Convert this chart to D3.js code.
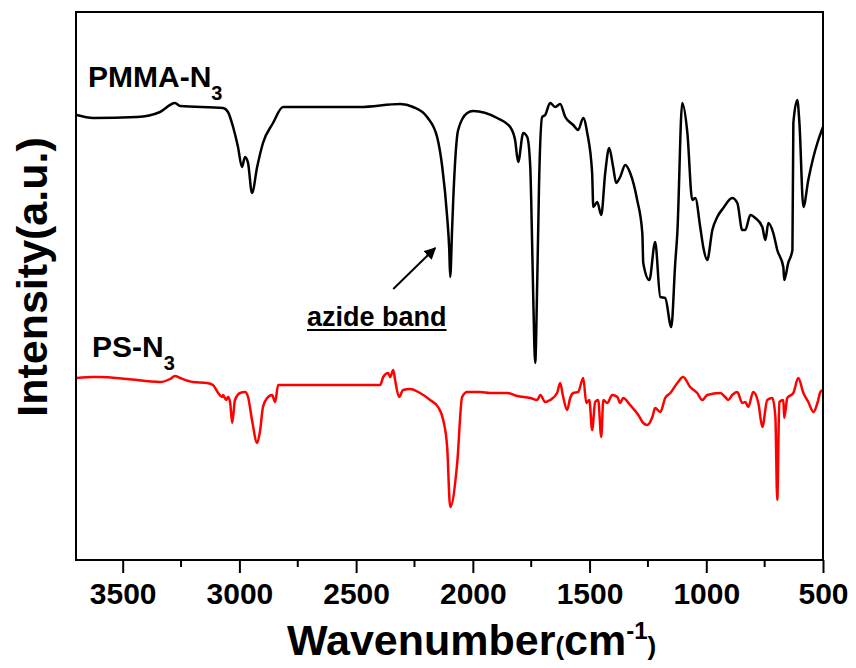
<!DOCTYPE html>
<html>
<head>
<meta charset="utf-8">
<script src="https://cdn.jsdelivr.net/npm/d3@7"></script>
<style>
  body { margin: 0; background: #fff; }
  text { font-family: "Liberation Sans", Arial, sans-serif; font-weight: bold; }
</style>
</head>
<body>
<svg id="chart"></svg>
<script>
// FTIR spectra (wavenumber in cm-1, intensity in a.u.)
var pmmaWn = [3696, 3627, 3439, 3340, 3276, 3254, 3070, 3049, 3027, 3006, 2989, 2976, 2963, 2946, 2924, 2899, 2856, 2813,
  2624, 2483, 2311, 2256, 2196, 2153, 2131, 2110, 2101, 2097, 2089, 2084, 2063, 2024, 1999, 1896, 1840, 1819, 1806,
  1784, 1767, 1754, 1750, 1741, 1733, 1724, 1716, 1703, 1690, 1669, 1647, 1626, 1604, 1570, 1549, 1527, 1510, 1489,
  1484, 1467, 1450, 1433, 1416, 1399, 1386, 1369, 1347, 1326, 1296, 1274, 1270, 1244, 1219, 1197, 1176, 1150, 1133,
  1124, 1103, 1081, 1060, 1047, 1026, 1013, 996, 974, 953, 927, 889, 867, 846, 833, 811, 790, 760, 747, 734, 713,
  696, 670, 666, 649, 631, 627, 610, 601, 584, 563, 541, 524, 500];
var pmmaInt = [445, 442, 443, 448, 457, 454, 452, 448, 433, 413, 393, 403, 397, 367, 393, 417, 437, 453,
  453, 453, 456, 453, 443, 423, 393, 343, 310, 283, 330, 360, 430, 447, 449, 442, 433, 420, 398,
  427, 423, 393, 360, 260, 197, 280, 380, 443, 445, 457, 453, 456, 443, 435, 430, 442, 427, 387,
  353, 358, 345, 387, 412, 393, 377, 383, 395, 387, 360, 327, 297, 280, 318, 263, 262, 233, 297,
  327, 457, 427, 360, 362, 333, 313, 300, 330, 343, 352, 362, 357, 330, 330, 345, 342, 333, 320, 337, 327,
  310, 293, 280, 297, 310, 437, 460, 437, 353, 380, 403, 417, 433];

var psWn = [3696, 3627, 3597, 3481, 3340, 3297, 3276, 3254, 3199, 3139, 3113, 3091, 3074, 3070, 3057, 3049, 3040, 3031,
  3019, 2997, 2976, 2963, 2946, 2924, 2911, 2899, 2877, 2860, 2847, 2834, 2770, 2483, 2397, 2384, 2363, 2354, 2341,
  2333, 2316, 2299, 2269, 2226, 2183, 2149, 2127, 2110, 2097, 2067, 2046, 2024, 1969, 1926, 1853, 1810, 1754, 1724,
  1711, 1690, 1669, 1639, 1626, 1613, 1596, 1583, 1570, 1549, 1527, 1514, 1501, 1489, 1476, 1463, 1450, 1441, 1424,
  1403, 1381, 1369, 1356, 1326, 1291, 1270, 1253, 1231, 1219, 1197, 1176, 1154, 1124, 1099, 1069, 1039, 1017, 996,
  940, 919, 906, 889, 867, 846, 833, 820, 799, 777, 760, 739, 717, 704, 696, 687, 670, 666, 653, 627, 606, 584, 563,
  541, 524, 511, 500];
var psInt = [182, 183, 183, 181, 178, 181, 184, 182, 178, 177, 175, 167, 163, 165, 160, 163, 158, 137,
  160, 167, 168, 163, 140, 117, 130, 153, 163, 165, 158, 175, 175, 175, 175, 183, 187, 183, 190,
  180, 163, 170, 171, 167, 160, 153, 140, 113, 53, 97, 163, 168, 168, 167, 167, 164, 162, 160,
  165, 158, 160, 167, 177, 163, 150, 162, 167, 168, 182, 157, 160, 130, 158, 160, 123, 160, 157,
  165, 163, 157, 162, 155, 145, 137, 135, 143, 152, 148, 162, 167, 177, 183, 173, 167, 160, 165,
  167, 163, 160, 165, 168, 157, 158, 153, 168, 157, 133, 160, 162, 143, 60, 158, 160, 142, 162, 167, 182, 167, 158,
  148, 157, 168, 170];

var xTicks = [3500, 3000, 2500, 2000, 1500, 1000, 500];
var xMinorTicks = [3250, 2750, 2250, 1750, 1250, 750];

var width = 856, height = 668;
var margin = {top: 12, right: 33, bottom: 108, left: 76};

var svg = d3.select("#chart")
            .attr("width", width)
            .attr("height", height);

var x = d3.scaleLinear()
          .domain([3700, 500])
          .range([margin.left, width - margin.right]);

var y = d3.scaleLinear()
          .domain([0, 548])
          .range([height - margin.bottom, margin.top]);

svg.append("clipPath")
   .attr("id", "plot-clip")
   .append("rect")
   .attr("x", margin.left)
   .attr("y", margin.top)
   .attr("width", width - margin.left - margin.right)
   .attr("height", height - margin.top - margin.bottom);

var line = d3.line()
             .curve(d3.curveMonotoneX)
             .x(d => x(d[0]))
             .y(d => y(d[1]));

var plot = svg.append("g").attr("clip-path", "url(#plot-clip)");

plot.append("path")
    .datum(d3.zip(psWn, psInt))
    .attr("fill", "none")
    .attr("stroke", "#ff0000")
    .attr("stroke-width", 2.5)
    .attr("stroke-linejoin", "round")
    .attr("d", line);

plot.append("path")
    .datum(d3.zip(pmmaWn, pmmaInt))
    .attr("fill", "none")
    .attr("stroke", "#000")
    .attr("stroke-width", 2.5)
    .attr("stroke-linejoin", "round")
    .attr("d", line);

// frame
svg.append("rect")
   .attr("x", margin.left)
   .attr("y", margin.top)
   .attr("width", width - margin.left - margin.right)
   .attr("height", height - margin.top - margin.bottom)
   .attr("fill", "none")
   .attr("stroke", "#000")
   .attr("stroke-width", 2);

// bottom axis
var xAxis = svg.append("g")
               .attr("transform", `translate(0,${height - margin.bottom})`)
               .call(d3.axisBottom(x).tickValues(xTicks).tickSize(13).tickPadding(10).tickFormat(d3.format("d")));
xAxis.select(".domain").remove();
xAxis.selectAll(".tick line").attr("stroke-width", 2);
xAxis.selectAll(".tick text")
     .attr("font-size", 30)
     .attr("font-family", "'Liberation Sans', Arial, sans-serif")
     .attr("font-weight", "bold")
     .attr("fill", "#000");

svg.append("g")
   .selectAll("line")
   .data(xMinorTicks)
   .enter().append("line")
   .attr("x1", d => x(d))
   .attr("x2", d => x(d))
   .attr("y1", height - margin.bottom)
   .attr("y2", height - margin.bottom + 7)
   .attr("stroke", "#000")
   .attr("stroke-width", 2);

// axis titles
var xTitle = svg.append("text")
                .attr("x", 287)
                .attr("y", 655)
                .attr("fill", "#000");
xTitle.append("tspan").attr("font-size", 43).text("Wavenumber");
xTitle.append("tspan").attr("font-size", 26).text("(");
xTitle.append("tspan").attr("font-size", 43).text("cm");
xTitle.append("tspan").attr("font-size", 24).attr("dy", -16).text("-1");
xTitle.append("tspan").attr("font-size", 26).attr("dy", 16).text(")");

svg.append("text")
   .attr("transform", "translate(47,277) rotate(-90)")
   .attr("text-anchor", "middle")
   .attr("font-size", 43)
   .attr("fill", "#000")
   .text("Intensity(a.u.)");

// series labels
var pmmaLabel = svg.append("text").attr("x", 88).attr("y", 87).attr("font-size", 30).attr("fill", "#000");
pmmaLabel.append("tspan").text("PMMA-N");
pmmaLabel.append("tspan").attr("font-size", 20).attr("dy", 13).text("3");

var psLabel = svg.append("text").attr("x", 92).attr("y", 357).attr("font-size", 30).attr("fill", "#000");
psLabel.append("tspan").text("PS-N");
psLabel.append("tspan").attr("font-size", 20).attr("dy", 13).text("3");

// azide band annotation
svg.append("defs").append("marker")
   .attr("id", "arrow")
   .attr("viewBox", "0 0 10 10")
   .attr("refX", 9).attr("refY", 5)
   .attr("markerWidth", 6).attr("markerHeight", 6)
   .attr("orient", "auto")
   .append("path")
   .attr("d", "M0,0 L10,5 L0,10 z")
   .attr("fill", "#000");

svg.append("line")
   .attr("x1", x(2341)).attr("y1", y(271))
   .attr("x2", x(2161)).attr("y2", y(312))
   .attr("stroke", "#000")
   .attr("stroke-width", 2)
   .attr("marker-end", "url(#arrow)");

var azide = svg.append("text")
               .attr("x", 307)
               .attr("y", 326)
               .attr("font-size", 27)
               .attr("fill", "#000")
               .text("azide band");
var bb = azide.node().getBBox();
svg.append("line")
   .attr("x1", bb.x).attr("x2", bb.x + bb.width)
   .attr("y1", 330).attr("y2", 330)
   .attr("stroke", "#000")
   .attr("stroke-width", 2);
</script>
</body>
</html>
